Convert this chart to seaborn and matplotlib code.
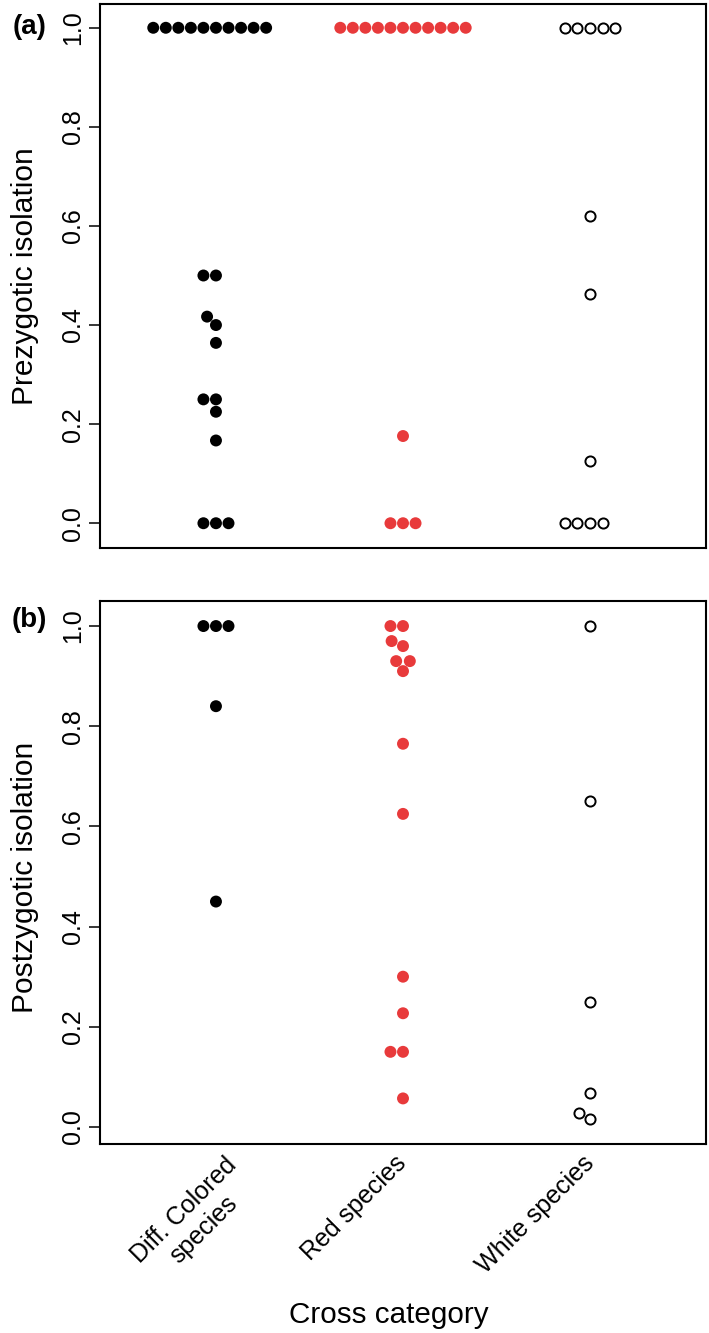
import matplotlib
matplotlib.use('Agg')
import matplotlib.pyplot as plt
import matplotlib.transforms as mtransforms
import pandas as pd
import seaborn as sns

# ── data ─────────────────────────────────────────────────────
cat_keys = ['diff', 'red', 'white']
cat_labels = ['Diff. Colored\nspecies', 'Red species', 'White species']

# (a) prezygotic isolation
pre_diff = [1.0, 1.0, 1.0, 1.0, 1.0, 1.0, 1.0, 1.0, 1.0, 1.0,
            0.5, 0.5, 0.417, 0.40, 0.364, 0.25, 0.25, 0.225, 0.167,
            0.0, 0.0, 0.0]
pre_red = [1.0, 1.0, 1.0, 1.0, 1.0, 1.0, 1.0, 1.0, 1.0, 1.0, 1.0,
           0.176, 0.0, 0.0, 0.0]
pre_white = [1.0, 1.0, 1.0, 1.0, 1.0, 0.62, 0.462, 0.125,
             0.0, 0.0, 0.0, 0.0]

# (b) postzygotic isolation
post_diff = [1.0, 1.0, 1.0, 0.84, 0.45]
post_red = [1.0, 1.0, 0.97, 0.96, 0.93, 0.93, 0.91, 0.765, 0.625,
            0.30, 0.227, 0.15, 0.15, 0.057]
post_white = [1.0, 0.65, 0.25, 0.068, 0.027, 0.016]

yticks = [0.0, 0.2, 0.4, 0.6, 0.8, 1.0]
ytick_labels = ['0.0', '0.2', '0.4', '0.6', '0.8', '1.0']

RED = '#E83A3B'
palette = {'diff': 'black', 'red': RED, 'white': 'white'}

# ── style ────────────────────────────────────────────────────
sns.set_style('white')
plt.rcParams['font.family'] = ['Liberation Sans', 'DejaVu Sans']
plt.rcParams['text.color'] = 'black'
plt.rcParams['axes.labelcolor'] = 'black'
plt.rcParams['xtick.color'] = 'black'
plt.rcParams['ytick.color'] = 'black'

W, H = 709, 1333
fig = plt.figure(figsize=(W / 100, H / 100), dpi=100)


def px_axes(left, top, right, bottom):
    return fig.add_axes([left / W, 1 - bottom / H, (right - left) / W, (bottom - top) / H])


def draw_panel(ax, diff, red, white, ylim):
    filled = pd.DataFrame({'cat': ['diff'] * len(diff) + ['red'] * len(red),
                           'val': diff + red})
    hollow = pd.DataFrame({'cat': ['white'] * len(white), 'val': white})

    # seaborn spaces swarm points ~5% wider than the marker itself
    sns.swarmplot(data=filled, x='cat', y='val', order=cat_keys,
                  hue='cat', hue_order=cat_keys, palette=palette,
                  size=8.6, linewidth=0, legend=False, ax=ax)
    sns.swarmplot(data=hollow, x='cat', y='val', order=cat_keys,
                  color='white', edgecolor='black', linewidth=1.4,
                  size=7.3, ax=ax)

    ax.set_xlim(-0.62, 2.62)
    ax.set_ylim(*ylim)
    ax.set_yticks(yticks)
    ax.set_yticklabels(ytick_labels, rotation=90, va='center')
    ax.set_xticks([0, 1, 2])
    ax.set_xlabel('')
    ax.set_ylabel('')
    ax.tick_params(axis='y', direction='out', length=8, width=1.1,
                   pad=2.5, labelsize=18, left=True, color='black')
    for sp in ax.spines.values():
        sp.set_linewidth(1.5)
        sp.set_color('black')


# (a)
ax_a = px_axes(100, 4, 706, 548)
draw_panel(ax_a, pre_diff, pre_red, pre_white, (-0.05, 1.048))
ax_a.tick_params(axis='x', length=0, labelbottom=False)

# (b)
ax_b = px_axes(100, 601, 706, 1144)
draw_panel(ax_b, post_diff, post_red, post_white, (-0.034, 1.05))
ax_b.set_xticklabels(cat_labels)
ax_b.tick_params(axis='x', length=0, pad=11, labelsize=18)
for i, lab in enumerate(ax_b.get_xticklabels()):
    lab.set_rotation(45)
    lab.set_ha('right')
    lab.set_va('center')
    lab.set_rotation_mode('anchor')
    lab.set_multialignment('center')
    if i == 0:
        lab.set_transform(lab.get_transform() +
                          mtransforms.ScaledTranslation(27 / 100, -12 / 100, fig.dpi_scale_trans))

# axis titles and panel letters
fig.text(25 / W, 1 - 276 / H, 'Prezygotic isolation', rotation=90,
         ha='center', va='center', fontsize=21.5)
fig.text(25 / W, 1 - 877 / H, 'Postzygotic isolation', rotation=90,
         ha='center', va='center', fontsize=21.5)
fig.text(389 / W, 1 - 1323 / H, 'Cross category', ha='center',
         va='baseline', fontsize=21.3)
fig.text(30 / W, 1 - 27 / H, '(a)', ha='center', va='center',
         fontsize=20, fontweight='bold')
fig.text(29 / W, 1 - 620 / H, '(b)', ha='center', va='center',
         fontsize=20, fontweight='bold')

fig.savefig('out.png', dpi=100)
